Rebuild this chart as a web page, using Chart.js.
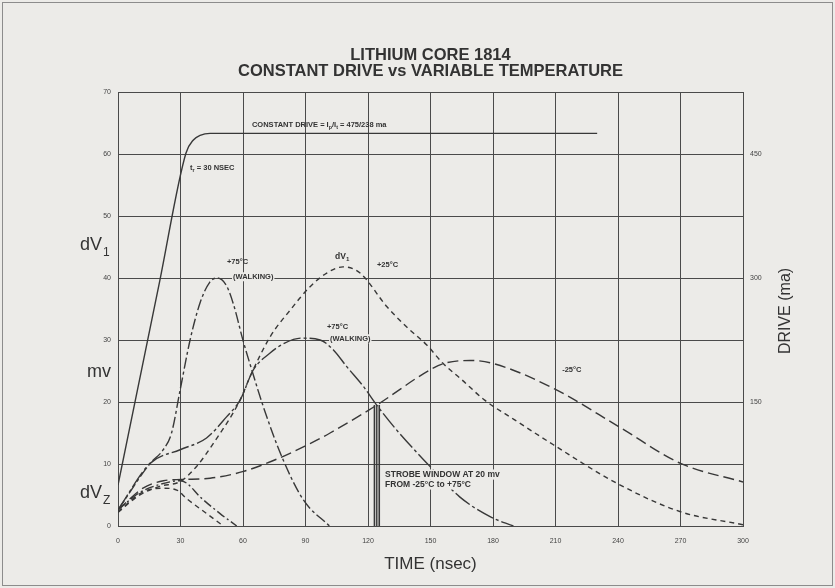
<!DOCTYPE html>
<html lang="en">
<head>
<meta charset="UTF-8">
<title>Lithium Core 1814 - constant drive vs variable temperature</title>
<script src="https://cdn.jsdelivr.net/npm/chart.js"></script>
<style>
  body { margin: 0; background: #ecebe8; }
  canvas { display: block; }
</style>
</head>
<body>
<canvas id="chart" width="835" height="588"></canvas>
<script>
// axes
const timeTicks  = [0, 30, 60, 90, 120, 150, 180, 210, 240, 270, 300];
const mvTicks    = [0, 10, 20, 30, 40, 50, 60, 70];
const driveTicks = [150, 300, 450];

// drive current (ma), read on the right axis
const driveTime = [0, 20, 32.6, 36.2, 39.4, 44.2, 230];
const driveMa   = [49.5, 296, 451, 467, 472.5, 475, 475];

// +75C (walking), fast dV1
const hot1Time = [0, 15.4, 21.7, 25.7, 29.8, 34.6, 39.4, 44, 47.5, 52, 55.3, 60.2, 64.2, 69.8, 78.6, 89, 101.5];
const hot1Mv   = [2.6, 10.1, 12.3, 15, 21.9, 30, 36, 39.3, 40, 38.8, 35.9, 29.7, 25.2, 19.2, 11.2, 4.2, 0];

// +75C (walking), slow dV1
const hot2Time = [0, 15.4, 29.8, 42.5, 52.1, 58.6, 65, 73, 80, 88, 97, 103.4, 109.8, 117.8, 124.2, 133.7, 149.5, 164, 178.6, 189.8];
const hot2Mv   = [2.6, 10.1, 12.3, 14.2, 17.6, 20.3, 25.2, 27.9, 29.5, 30.3, 30, 28.4, 25.7, 22.5, 19.5, 15.5, 9.7, 4.7, 1.5, 0];

// +25C dV1
const roomTime = [0, 10, 20, 30, 37.7, 45.7, 58.6, 63.4, 73, 82.6, 92.2, 100.2, 108, 116.2, 129, 138.6, 148.2, 156.1, 165, 176, 190, 209, 239.4, 270, 300];
const roomMv   = [2.2, 4.9, 6.4, 7.2, 9.6, 13.3, 20.3, 24.1, 30.5, 34.8, 38.6, 40.8, 41.8, 40.8, 35.4, 32.1, 29.2, 26.2, 23.6, 20.3, 17.2, 13.1, 6.9, 2.3, 0.2];

// -25C dV1
const coldTime = [0, 12, 21.8, 30.5, 44.2, 60.2, 77, 92.2, 101.8, 124.2, 149.8, 156.2, 169, 180.2, 209, 241, 270, 300];
const coldMv   = [2.6, 6.1, 7.3, 7.5, 7.7, 8.8, 10.9, 13.3, 15, 19.5, 25.2, 26.2, 26.7, 26.2, 22.2, 15.9, 10.1, 7.1];

// dVz curves
const zHotTime  = [0, 10, 20, 29.8, 33, 39.4, 49, 57];
const zHotMv    = [2.6, 5.3, 6.7, 7.3, 6.9, 4.7, 2.0, 0];
const zRoomTime = [0, 12, 21.8, 28.2, 33, 42.6, 50.6];
const zRoomMv   = [2.3, 5.5, 6.1, 5.8, 4.4, 2.0, 0];

// strobe window at 20 mv
const strobeTime = [123.1, 124.2, 125.4];
const strobeMv   = [19.5, 0];

const ink = '#383838';

const toXY = (t, v) => t.map((x, i) => ({x: x, y: v[i]}));

const curve = (label, t, v, dash, axis) => ({
    label: label,
    data: toXY(t, v),
    borderColor: ink,
    borderWidth: 1.4,
    borderDash: dash,
    yAxisID: axis || 'y',
    cubicInterpolationMode: 'monotone',
    pointRadius: 0
});

const datasets = [
    curve('drive', driveTime, driveMa, [], 'y2'),
    curve('+75C walking', hot1Time, hot1Mv, [11, 3, 3, 3]),
    curve('+75C walking 2', hot2Time, hot2Mv, [18, 3, 3, 3]),
    curve('+25C', roomTime, roomMv, [5, 4]),
    curve('-25C', coldTime, coldMv, [11, 5]),
    curve('dVz +75C', zHotTime, zHotMv, [9, 3, 2, 3]),
    curve('dVz +25C', zRoomTime, zRoomMv, [5, 4])
];
strobeTime.forEach((t, i) => {
    datasets.push({
        label: 'strobe',
        data: toXY([t, t], strobeMv),
        borderColor: ink,
        borderWidth: i === 1 ? 0.8 : 1.6,
        tension: 0,
        pointRadius: 0
    });
});

// text written on the plot
const notes = [
    {t: 64.3, v: 64.7, parts: [['CONSTANT DRIVE = I'], ['p', 1], ['/I'], ['t', 1], [' = 475/238 ma']]},
    {t: 34.6, v: 57.7, parts: [['t'], ['r', 1], [' = 30 NSEC']]},
    {t: 52.3, v: 42.6, parts: [['+75°C']]},
    {t: 55.2, v: 40.2, parts: [['(WALKING)']], box: true},
    {t: 104.2, v: 43.4, parts: [['dV'], ['1', 1]], size: 8.5},
    {t: 124.3, v: 42.1, parts: [['+25°C']]},
    {t: 100.3, v: 32.1, parts: [['+75°C']]},
    {t: 101.8, v: 30.2, parts: [['(WALKING)']], box: true},
    {t: 213.2, v: 25.2, parts: [['-25°C']]},
    {t: 128.2, v: 8.3, parts: [['STROBE WINDOW AT 20 mv']], box: true, size: 8.5},
    {t: 128.2, v: 6.7, parts: [['FROM -25°C to +75°C']], box: true, size: 8.5}
];

// big labels left of the mv axis
const sideLabels = [
    {v: 44.5, main: 'dV', sub: '1', dx: -38},
    {v: 24, main: 'mv', dx: -31},
    {v: 4.5, main: 'dV', sub: 'Z', dx: -38}
];

const titleLines = ['LITHIUM CORE 1814', 'CONSTANT DRIVE vs VARIABLE TEMPERATURE'];

const FONT = '"Liberation Sans", Arial, sans-serif';

function richText(c, parts, x, y, size, draw) {
    let cx = x;
    parts.forEach(([txt, sub]) => {
        const fs = sub ? size * 0.72 : size;
        c.font = 'bold ' + fs + 'px ' + FONT;
        if (draw) c.fillText(txt, cx, y + (sub ? size * 0.3 : 0));
        cx += c.measureText(txt).width;
    });
    return cx - x;
}

const paper = {
    id: 'paper',
    beforeDraw(chart) {
        const c = chart.ctx;
        c.save();
        c.fillStyle = '#ecebe8';
        c.fillRect(0, 0, chart.width, chart.height);
        c.strokeStyle = '#8c8c8c';
        c.lineWidth = 1;
        c.strokeRect(2.5, 2.5, chart.width - 5, chart.height - 5);
        c.restore();
    },
    afterDraw(chart) {
        const c = chart.ctx;
        const area = chart.chartArea;
        const xs = chart.scales.x, ys = chart.scales.y;
        const mid = (area.left + area.right) / 2;
        c.save();
        c.fillStyle = '#333';

        // title
        c.textAlign = 'center';
        c.textBaseline = 'middle';
        c.font = 'bold 16.5px ' + FONT;
        titleLines.forEach((line, i) => c.fillText(line, mid, 55 + i * 16));

        // right axis title
        c.save();
        c.translate(area.right + 43, (area.top + area.bottom) / 2 + 2);
        c.rotate(-Math.PI / 2);
        c.font = '16px ' + FONT;
        c.fillText('DRIVE (ma)', 0, 0);
        c.restore();

        // left big labels
        c.textAlign = 'left';
        c.textBaseline = 'alphabetic';
        sideLabels.forEach(s => {
            const y = ys.getPixelForValue(s.v);
            const x = area.left + s.dx;
            c.font = '18px ' + FONT;
            c.fillText(s.main, x, y);
            if (s.sub) {
                const w = c.measureText(s.main).width;
                c.font = '12px ' + FONT;
                c.fillText(s.sub, x + w + 1, y + 6);
            }
        });

        // notes
        c.textBaseline = 'middle';
        notes.forEach(n => {
            const size = n.size || 7.5;
            const x = xs.getPixelForValue(n.t);
            const y = ys.getPixelForValue(n.v);
            const w = richText(c, n.parts, x, y, size, false);
            if (n.box) {
                c.fillStyle = '#ecebe8';
                c.fillRect(x - 1, y - size * 0.6, w + 2, size * 1.2);
                c.fillStyle = '#333';
            }
            richText(c, n.parts, x, y, size, true);
        });
        c.restore();
    }
};

const grid = {color: '#4a4a4a', lineWidth: 1, drawTicks: false};
const tickFont = {family: FONT, size: 7};

new Chart(document.getElementById('chart'), {
    type: 'line',
    data: {datasets: datasets},
    options: {
        responsive: false,
        animation: false,
        layout: {padding: {top: 92, left: 0, right: 0, bottom: 0}},
        plugins: {legend: {display: false}, tooltip: {enabled: false}},
        scales: {
            x: {
                type: 'linear', min: 0, max: 300,
                afterBuildTicks: s => { s.ticks = timeTicks.map(v => ({value: v})); },
                afterFit: s => { s.height = 62; },
                grid: grid,
                border: {color: '#4a4a4a'},
                ticks: {font: tickFont, color: '#444', padding: 11, maxRotation: 0},
                title: {display: true, text: 'TIME (nsec)', color: '#333',
                        font: {family: FONT, size: 17}, padding: {top: 0, bottom: 13}}
            },
            y: {
                min: 0, max: 70,
                afterBuildTicks: s => { s.ticks = mvTicks.map(v => ({value: v})); },
                afterFit: s => { s.width = 118; },
                grid: grid,
                border: {color: '#4a4a4a'},
                ticks: {font: tickFont, color: '#444', padding: 7}
            },
            y2: {
                position: 'right', min: 0, max: 525,
                afterBuildTicks: s => { s.ticks = driveTicks.map(v => ({value: v})); },
                afterFit: s => { s.width = 92; },
                grid: {display: false, drawTicks: false},
                border: {display: false},
                ticks: {font: tickFont, color: '#444', padding: 7}
            }
        }
    },
    plugins: [paper]
});
</script>
</body>
</html>
